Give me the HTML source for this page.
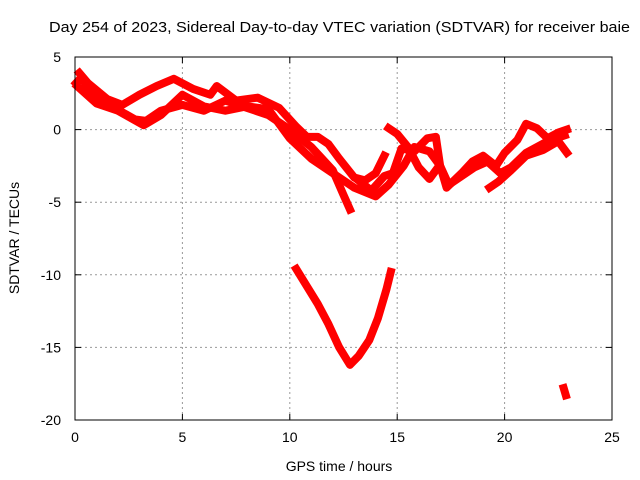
<!DOCTYPE html>
<html><head><meta charset="utf-8"><style>
body{margin:0;background:#fff}
svg{display:block;font-family:"Liberation Sans",sans-serif}
</style></head><body>
<svg id="chart" width="640" height="480">
<text x="49" y="32" font-size="15" textLength="581" lengthAdjust="spacingAndGlyphs">Day 254 of 2023, Sidereal Day-to-day VTEC variation (SDTVAR) for receiver baie</text>
<text x="339" y="471" font-size="14" text-anchor="middle">GPS time / hours</text>
<text x="0" y="0" font-size="14" text-anchor="middle" transform="translate(19,238) rotate(-90)">SDTVAR / TECUs</text>
<g id="grid"></g>
<g id="ticks"></g>
<g id="series"></g>
<rect x="75" y="57" width="537" height="363" fill="none" stroke="#000" stroke-width="1"/>
</svg>
<script>
const xTicks=[0,5,10,15,20,25];
const yTicks=[5,0,-5,-10,-15,-20];
const traceA_t=[0.05,0.3,0.8,1.5,2.2,2.8,3.3,4,5,6,7,8,9,10,11,12,12.5,12.8];
const traceA_v=[3.2,3.6,2.4,1.6,1.2,0.7,0.6,1.3,1.7,1.3,2,1.5,1,0,-1.2,-2.8,-4.5,-5.5];
const traceB_t=[0.2,0.6,1.5,2.2,3,3.8,4.6,5.5,6.3,6.6,7.5,8.5,9.5,10.3,10.8,11.3,11.8,12.3,13,13.5,14,14.4];
const traceB_v=[3.9,3.2,2.1,1.7,2.4,3,3.5,2.8,2.4,3,2,2.2,1.5,0.2,-0.5,-0.5,-1,-2,-3.3,-3.5,-3,-1.8];
const traceC_t=[0.1,1,2,2.6,3.2,4,5,6,7,8,9,10,11,12,13,14,14.6,15.3,15.8,16.5,17,17.4,18,18.6,19.2,19.8,20.3,21,22,22.8];
const traceC_v=[3,1.8,1.3,0.8,0.3,1,2.4,1.6,1.3,1.6,1.4,-0.6,-2,-3,-4,-4.6,-3.8,-2.5,-1.2,-1.5,-2.5,-3.8,-3.2,-2.6,-2.2,-3,-2.6,-1.6,-0.8,-0.4];
const traceD_t=[13.2,13.8,14.4,14.8,15.2,15.8,16.4,16.8,17,17.3,18,18.5,19,19.6,20,20.6,21,21.5,22,22.5,22.9];
const traceD_v=[-3.5,-4.2,-3.2,-3,-1.3,-1.5,-0.6,-0.5,-2.5,-4,-3,-2.2,-1.8,-2.5,-1.6,-0.7,0.4,0.1,-0.6,-0.2,0];
const traceE_t=[14.6,15,15.5,16,16.5,16.9];
const traceE_v=[0.1,-0.3,-1.2,-2.6,-3.4,-2.6];
const traceF_t=[19.3,19.7,20.3,21,21.8,22.5,22.9];
const traceF_v=[-4,-3.6,-2.8,-1.8,-1.4,-0.8,-1.6];
const traceG_t=[10.3,10.8,11.3,11.8,12.3,12.8,13.2,13.7,14.1,14.5,14.7];
const traceG_v=[-9.6,-10.8,-12,-13.4,-15,-16.2,-15.6,-14.5,-13,-11,-9.8];
const traceH_t=[22.75,22.85];
const traceH_v=[-17.8,-18.3];
const traces=[[traceA_t,traceA_v],[traceB_t,traceB_v],[traceC_t,traceC_v],[traceD_t,traceD_v],[traceE_t,traceE_v],[traceF_t,traceF_v],[traceG_t,traceG_v],[traceH_t,traceH_v]];
const NS="http://www.w3.org/2000/svg";
const sx=t=>75+t*(537/25);
const sy=v=>57+(5-v)*(363/25);
function mk(tag,attrs,parent){const e=document.createElementNS(NS,tag);for(const k in attrs)e.setAttribute(k,attrs[k]);parent.appendChild(e);return e;}
const grid=document.getElementById('grid'),ticks=document.getElementById('ticks'),series=document.getElementById('series');
xTicks.forEach(t=>{
  const x=sx(t);
  if(t>0&&t<25){const l=mk('line',{x1:x,y1:57,x2:x,y2:420,stroke:'#999','stroke-dasharray':'2,3'},grid);
  
  }
  mk('line',{x1:x,y1:420,x2:x,y2:414,stroke:'#000'},ticks);
  mk('line',{x1:x,y1:57,x2:x,y2:63,stroke:'#000'},ticks);
  const tx=mk('text',{x:x,y:442,'font-size':14,'text-anchor':'middle'},ticks);tx.textContent=t;
  
  
});
yTicks.forEach(v=>{
  const y=sy(v);
  if(v<5&&v>-20){const l=mk('line',{x1:75,y1:y,x2:612,y2:y,stroke:'#999','stroke-dasharray':'2,3'},grid);
  
  }
  mk('line',{x1:75,y1:y,x2:81,y2:y,stroke:'#000'},ticks);
  mk('line',{x1:612,y1:y,x2:606,y2:y,stroke:'#000'},ticks);
  const tx=mk('text',{x:61,y:y+5,'font-size':14,'text-anchor':'end'},ticks);tx.textContent=v;
  
  
});
traces.forEach((tr,i)=>{
  const pts=tr[0].map((t,j)=>sx(t)+','+sy(tr[1][j])).join(' ');
  const p=mk('polyline',{points:pts,fill:'none',stroke:'#f00','stroke-width':8,'stroke-linejoin':'round','stroke-linecap':'square'},series);
  
  
});
</script>
</body></html>
